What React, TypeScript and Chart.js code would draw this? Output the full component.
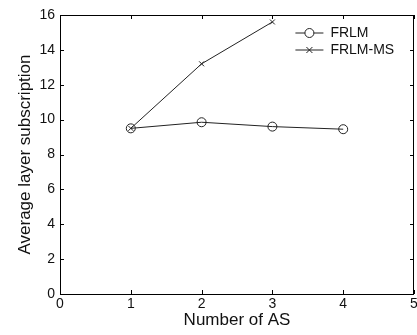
import React, { useEffect, useRef } from "react";
import { Chart, registerables } from "chart.js";

Chart.register(...registerables);

const asCounts = [1, 2, 3, 4];
const frlm = [9.5, 9.85, 9.6, 9.45];
const frlmMsCounts = [1, 2, 3];
const frlmMs = [9.5, 13.2, 15.6];
const xTicks = [0, 1, 2, 3, 4, 5];
const yTicks = [0, 2, 4, 6, 8, 10, 12, 14, 16];
const seriesNames = ["FRLM", "FRLM-MS"];

const FONT = "'Liberation Sans', Arial, sans-serif";

const framePlugin = {
  id: "frame",
  afterDraw(chart: any) {
    const { ctx, chartArea: a, scales } = chart;
    const xs = scales.x;
    const ys = scales.y;
    ctx.save();
    ctx.strokeStyle = "#000";
    ctx.lineWidth = 1;
    ctx.strokeRect(Math.round(a.left) + 0.5, Math.round(a.top) + 0.5, Math.round(a.right - a.left) - 1, Math.round(a.bottom - a.top));
    const len = 4;
    ctx.beginPath();
    xTicks.forEach((v) => {
      const px = Math.round(xs.getPixelForValue(v)) + 0.5;
      ctx.moveTo(px, a.bottom);
      ctx.lineTo(px, a.bottom - len);
      ctx.moveTo(px, a.top);
      ctx.lineTo(px, a.top + len);
    });
    yTicks.forEach((v) => {
      const py = Math.round(ys.getPixelForValue(v)) + 0.5;
      ctx.moveTo(a.left, py);
      ctx.lineTo(a.left + len, py);
      ctx.moveTo(a.right, py);
      ctx.lineTo(a.right - len, py);
    });
    ctx.stroke();

    // legend
    const lx0 = a.left + (a.right - a.left) * 0.665;
    const rows = [a.top + 18, a.top + 35];
    ctx.font = `14px ${FONT}`;
    ctx.textBaseline = "middle";
    rows.forEach((ry, i) => {
      ctx.strokeStyle = "#222";
      ctx.beginPath();
      ctx.moveTo(lx0, ry);
      ctx.lineTo(lx0 + 28, ry);
      ctx.stroke();
      const cx = lx0 + 14;
      ctx.beginPath();
      if (i === 0) {
        ctx.arc(cx, ry, 4.5, 0, Math.PI * 2);
        ctx.fillStyle = "#fff";
        ctx.fill();
        ctx.stroke();
      } else {
        ctx.moveTo(cx - 3, ry - 3);
        ctx.lineTo(cx + 3, ry + 3);
        ctx.moveTo(cx + 3, ry - 3);
        ctx.lineTo(cx - 3, ry + 3);
        ctx.stroke();
      }
      ctx.fillStyle = "#111";
      ctx.fillText(seriesNames[i], lx0 + 35, ry);
    });
    ctx.restore();
  },
};

export default function App() {
  const ref = useRef<HTMLCanvasElement>(null);
  useEffect(() => {
    document.body.style.margin = "0";
    const chart = new Chart(ref.current!, {
      type: "line",
      data: {
        datasets: [
          {
            label: seriesNames[0],
            data: asCounts.map((x, i) => ({ x, y: frlm[i] })),
            borderColor: "#222",
            borderWidth: 1,
            pointStyle: "circle",
            pointRadius: 4.5,
            pointBorderWidth: 1,
            pointBorderColor: "#222",
            pointBackgroundColor: "rgba(255,255,255,0)",
          },
          {
            label: seriesNames[1],
            data: frlmMsCounts.map((x, i) => ({ x, y: frlmMs[i] })),
            borderColor: "#222",
            borderWidth: 1,
            pointStyle: "crossRot",
            pointRadius: 3.5,
            pointBorderWidth: 1,
            pointBorderColor: "#222",
          },
        ],
      },
      options: {
        animation: false,
        responsive: false,
        devicePixelRatio: 1,
        layout: { autoPadding: false, padding: { top: 15, right: 3, left: 0, bottom: 0 } },
        plugins: { legend: { display: false }, tooltip: { enabled: false } },
        scales: {
          x: {
            type: "linear",
            min: 0,
            max: 5,
            afterFit: (s: any) => {
              s.height = 41;
              s.paddingLeft = 0;
              s.paddingRight = 0;
            },
            afterBuildTicks: (s: any) => {
              s.ticks = xTicks.map((v) => ({ value: v }));
            },
            grid: { display: false, drawTicks: false },
            border: { display: false },
            ticks: { color: "#111", font: { family: FONT, size: 14 }, padding: 2 },
            title: {
              display: true,
              text: "Number of AS",
              color: "#111",
              font: { family: FONT, size: 17 },
              padding: { top: 0, bottom: 4 },
            },
          },
          y: {
            type: "linear",
            min: 0,
            max: 16,
            afterFit: (s: any) => {
              s.width = 60;
              s.paddingTop = 0;
              s.paddingBottom = 0;
            },
            afterBuildTicks: (s: any) => {
              s.ticks = yTicks.map((v) => ({ value: v }));
            },
            grid: { display: false, drawTicks: false },
            border: { display: false },
            ticks: { color: "#111", font: { family: FONT, size: 14 }, padding: 5 },
            title: {
              display: true,
              text: "Average layer subscription",
              color: "#111",
              font: { family: FONT, size: 17 },
              padding: { top: 15, bottom: 0 },
            },
          },
        },
      },
      plugins: [framePlugin],
    });
    return () => chart.destroy();
  }, []);
  return <canvas ref={ref} width={417} height={335} style={{ display: "block" }} />;
}
